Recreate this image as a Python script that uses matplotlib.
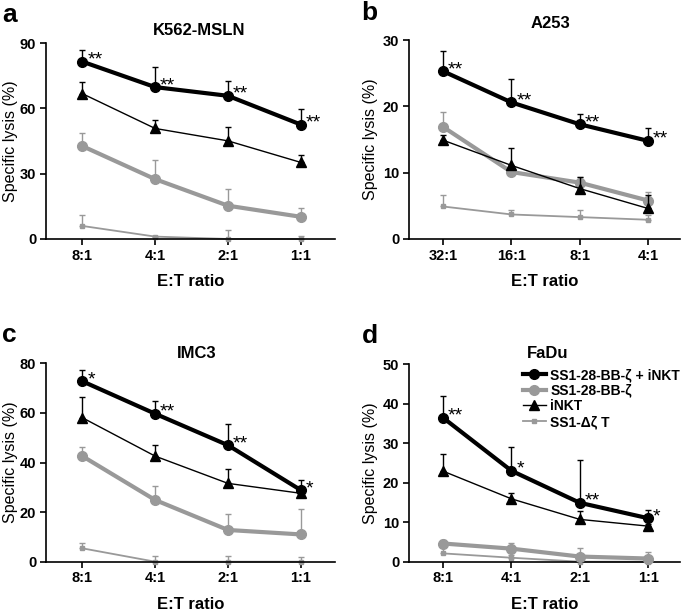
import numpy as np
import matplotlib
matplotlib.use("Agg")
import matplotlib.pyplot as plt

plt.rcParams["font.family"] = ["Liberation Sans", "DejaVu Sans"]

# ---- data ----
ratios_a = ["8:1", "4:1", "2:1", "1:1"]
ratios_b = ["32:1", "16:1", "8:1", "4:1"]

# panel a: K562-MSLN
a_combo = [81.5, 69.8, 65.8, 52.6]
a_combo_top = [87.0, 79.2, 72.4, 59.7]
a_car = [42.7, 27.5, 15.3, 10.2]
a_car_top = [48.9, 36.2, 23.2, 14.4]
a_inkt = [66.8, 50.8, 45.1, 35.2]
a_inkt_top = [72.0, 54.6, 51.5, 38.8]
a_ctrl = [6.0, 1.1, 0.0, 0.0]
a_ctrl_top = [11.2, 1.5, 4.1, 1.4]
a_stars = ["**", "**", "**", "**"]

# panel b: A253
b_combo = [25.3, 20.6, 17.3, 14.8]
b_combo_top = [28.4, 24.2, 18.9, 16.8]
b_car = [16.9, 10.1, 8.5, 5.8]
b_car_top = [19.1, 10.4, 9.4, 7.1]
b_inkt = [14.9, 11.1, 7.6, 4.6]
b_inkt_top = [15.7, 13.7, 9.3, 6.6]
b_ctrl = [4.9, 3.7, 3.3, 2.9]
b_ctrl_top = [6.6, 4.3, 4.3, 3.6]
b_stars = ["**", "**", "**", "**"]

# panel c: IMC3
c_combo = [72.8, 59.7, 47.0, 28.9]
c_combo_top = [77.3, 64.7, 55.5, 32.9]
c_car = [42.6, 24.9, 12.8, 11.0]
c_car_top = [46.4, 30.5, 19.1, 21.1]
c_inkt = [58.1, 42.6, 31.6, 27.6]
c_inkt_top = [66.4, 47.0, 37.2, 30.0]
c_ctrl = [5.4, 0.0, 0.0, 0.0]
c_ctrl_top = [7.7, 2.4, 2.3, 1.7]
c_stars = ["*", "**", "**", "*"]

# panel d: FaDu
d_combo = [36.4, 23.0, 14.9, 11.0]
d_combo_top = [41.9, 28.9, 25.7, 13.2]
d_car = [4.6, 3.3, 1.3, 0.8]
d_car_top = [5.6, 4.8, 3.4, 2.5]
d_inkt = [22.9, 15.9, 10.7, 9.0]
d_inkt_top = [27.2, 17.5, 12.7, 9.5]
d_ctrl = [2.1, 1.0, 0.0, 0.0]
d_ctrl_top = [3.8, 1.7, 0.8, 0.6]
d_stars = ["**", "*", "**", "*"]

labels = ["SS1-28-BB-ζ + iNKT", "SS1-28-BB-ζ", "iNKT", "SS1-Δζ T"]

fig = plt.figure(figsize=(6.85, 6.12), dpi=100)

# letter, title, ticks, ymax, ystep, axes rect, series, stars,
# title x, title pad, ylabel x, letter position (fig coords, baseline)
panels = [
    ("a", "K562-MSLN", ratios_a, 90, 30, [0.067, 0.6095, 0.422, 0.320],
     [(a_combo, a_combo_top), (a_car, a_car_top), (a_inkt, a_inkt_top), (a_ctrl, a_ctrl_top)],
     a_stars, 0.53, 6, -0.097, (0.003, 0.964)),
    ("b", "A253", ratios_b, 30, 10, [0.597, 0.6095, 0.396, 0.325],
     [(b_combo, b_combo_top), (b_car, b_car_top), (b_inkt, b_inkt_top), (b_ctrl, b_ctrl_top)],
     b_stars, 0.52, 9, -0.114, (0.528, 0.967)),
    ("c", "IMC3", ratios_a, 80, 20, [0.067, 0.0822, 0.422, 0.324],
     [(c_combo, c_combo_top), (c_car, c_car_top), (c_inkt, c_inkt_top), (c_ctrl, c_ctrl_top)],
     c_stars, 0.52, 4, -0.097, (0.003, 0.441)),
    ("d", "FaDu", ratios_a, 50, 10, [0.597, 0.0822, 0.396, 0.323],
     [(d_combo, d_combo_top), (d_car, d_car_top), (d_inkt, d_inkt_top), (d_ctrl, d_ctrl_top)],
     d_stars, 0.51, 4, -0.114, (0.528, 0.4395)),
]

styles = [
    dict(color="black", lw=3.0, marker="o", ms=7),
    dict(color="#999999", lw=3.0, marker="o", ms=7),
    dict(color="black", lw=1.0, marker="^", ms=7),
    dict(color="#999999", lw=1.3, marker="s", ms=3.5),
]
zorders = [5, 3, 4, 2]

for (letter, title, ticks, ymax, ystep, rect, series, stars,
     tx, tpad, ylx, lpos) in panels:
    ax = fig.add_axes(rect)
    x = np.arange(len(ticks))
    handles = []
    for (vals, tops), st, z in zip(series, styles, zorders):
        vals = np.array(vals)
        up = np.array(tops) - vals
        ax.errorbar(x, vals, yerr=[np.zeros_like(vals), up], fmt="none",
                    ecolor=st["color"], elinewidth=1.0, capsize=2.5, capthick=1.0,
                    zorder=z, clip_on=False)
        h, = ax.plot(x, vals, color=st["color"], lw=st["lw"], marker=st["marker"],
                     ms=st["ms"], mfc=st["color"], mec=st["color"], zorder=z + 0.5,
                     clip_on=False)
        handles.append(h)
    combo = series[0][0]
    for xi, yi, s in zip(x, combo, stars):
        ax.annotate(s, (xi, yi), xytext=(3.5, -5), textcoords="offset points",
                    fontsize=14, ha="left", va="bottom", zorder=10)

    ax.set_xlim(-0.5, 3.47)
    ax.set_ylim(0, ymax)
    ax.set_yticks(np.arange(0, ymax + 1, ystep))
    ax.set_xticks(x)
    ax.set_xticklabels(ticks)
    for sp in ["top", "right"]:
        ax.spines[sp].set_visible(False)
    ax.spines["left"].set_linewidth(1.2)
    ax.spines["bottom"].set_linewidth(1.2)
    ax.tick_params(direction="out", length=4, width=1.2, labelsize=10.5, pad=3)
    for lab in ax.get_xticklabels() + ax.get_yticklabels():
        lab.set_fontweight("bold")
    ax.set_xlabel("E:T ratio", fontsize=12, fontweight="bold", labelpad=8)
    ax.set_ylabel("Specific lysis (%)", fontsize=11.5)
    ax.yaxis.set_label_coords(ylx, 0.5)
    ax.set_title(title, fontsize=12, fontweight="bold", pad=tpad, x=tx)
    fig.text(lpos[0], lpos[1], letter, fontsize=19, fontweight="bold",
             ha="left", va="baseline")

    if letter == "d":
        ax.legend(handles, labels, loc="upper right", bbox_to_anchor=(1.0, 0.98),
                  frameon=False, handlelength=1.7, handletextpad=0.3,
                  labelspacing=0.12, borderaxespad=0.0, borderpad=0.0,
                  prop=dict(weight="bold", size=10))

fig.savefig("out.png", dpi=100)
